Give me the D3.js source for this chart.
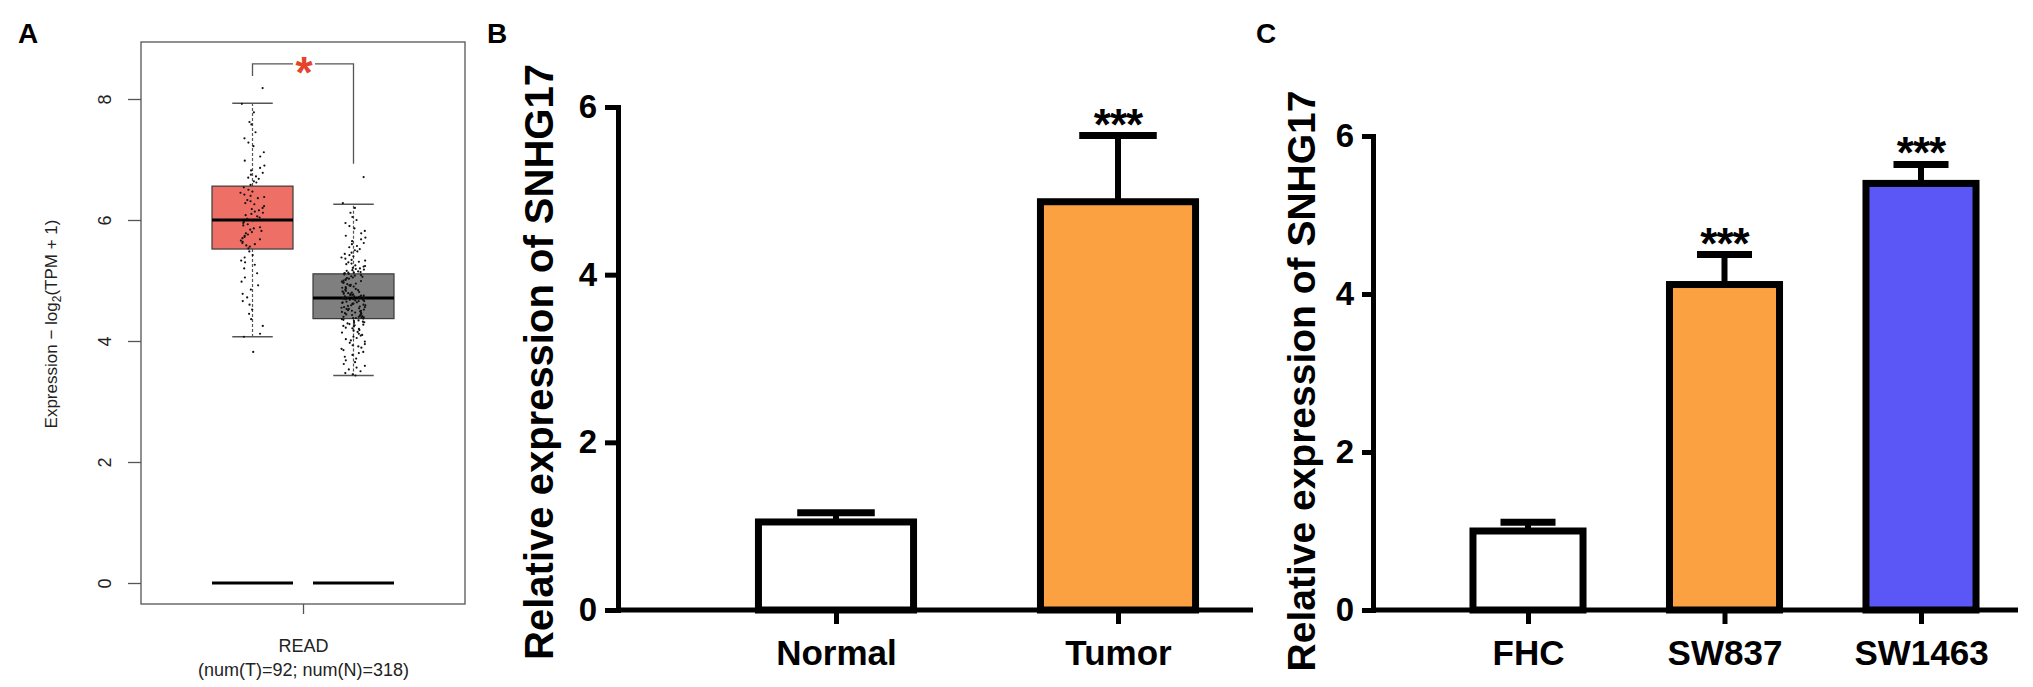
<!DOCTYPE html>
<html>
<head>
<meta charset="utf-8">
<script src="https://cdn.jsdelivr.net/npm/d3@7"></script>
<style>
body { margin: 0; background: #fff; }
svg { display: block; font-family: "Liberation Sans", Arial, sans-serif; }
</style>
</head>
<body>
<div id="chart"></div>
<script>
// ---- panel A : box plot (GEPIA style) ----
const boxGroups  = ['Tumor', 'Normal'];
const sampleSize = [92, 318];
const boxLower   = [4.07, 3.43];
const boxQ1      = [5.52, 4.37];
const boxMedian  = [6.00, 4.71];
const boxQ3      = [6.56, 5.11];
const boxUpper   = [7.93, 6.26];
const zeroLevel  = [0, 0];
const boxTicks   = [0, 2, 4, 6, 8];
const sigBracket = [8.38, 8.58, 6.93]; // left leg, top, right leg

const tumorPoints = [
	8.18, 7.92, 7.78, 7.62, 7.58, 7.45, 7.35, 7.28, 7.22, 7.12, 7.05, 6.98, 6.90, 6.86, 6.82, 6.78,
	6.75, 6.72, 6.70, 6.68, 6.64, 6.62, 6.58, 6.54, 6.50, 6.47, 6.45, 6.42, 6.40, 6.38, 6.36, 6.33,
	6.31, 6.28, 6.26, 6.23, 6.20, 6.18, 6.16, 6.14, 6.12, 6.10, 6.08, 6.06, 6.04, 6.02, 5.99, 5.97,
	5.95, 5.93, 5.91, 5.88, 5.86, 5.84, 5.82, 5.80, 5.78, 5.76, 5.74, 5.72, 5.70, 5.68, 5.66, 5.64,
	5.62, 5.60, 5.58, 5.56, 5.53, 5.48, 5.42, 5.38, 5.33, 5.30, 5.26, 5.20, 5.12, 5.05, 4.98, 4.92,
	4.85, 4.78, 4.72, 4.66, 4.60, 4.52, 4.45, 4.36, 4.25, 4.12, 4.07, 3.82
];
const normalPoints = [
	6.71, 6.28, 6.20, 6.12, 6.05, 6.00, 5.95, 5.90, 5.86, 5.82, 5.78, 5.74, 5.71, 5.68, 5.65, 5.62,
	5.60, 5.57, 5.55, 5.52, 5.50, 5.48, 5.46, 5.44, 5.42, 5.40, 5.38, 5.36, 5.34, 5.33, 5.31, 5.30,
	5.28, 5.27, 5.25, 5.24, 5.23, 5.21, 5.20, 5.19, 5.18, 5.17, 5.16, 5.15, 5.14, 5.13, 5.13, 5.12,
	5.12, 5.11, 5.10, 5.09, 5.08, 5.07, 5.06, 5.05, 5.04, 5.03, 5.02, 5.01, 5.00, 4.99, 4.98, 4.97,
	4.96, 4.95, 4.94, 4.93, 4.92, 4.91, 4.90, 4.89, 4.88, 4.87, 4.86, 4.85, 4.84, 4.83, 4.82, 4.81,
	4.80, 4.80, 4.79, 4.78, 4.78, 4.77, 4.76, 4.76, 4.75, 4.75, 4.74, 4.74, 4.73, 4.73, 4.72, 4.72,
	4.72, 4.71, 4.71, 4.71, 4.70, 4.70, 4.69, 4.69, 4.68, 4.68, 4.67, 4.66, 4.66, 4.65, 4.64, 4.64,
	4.63, 4.62, 4.62, 4.61, 4.60, 4.59, 4.59, 4.58, 4.57, 4.56, 4.56, 4.55, 4.54, 4.53, 4.53, 4.52,
	4.51, 4.50, 4.50, 4.49, 4.48, 4.47, 4.47, 4.46, 4.45, 4.45, 4.44, 4.43, 4.42, 4.42, 4.41, 4.40,
	4.40, 4.39, 4.39, 4.38, 4.38, 4.37, 4.36, 4.35, 4.34, 4.33, 4.32, 4.31, 4.30, 4.29, 4.28, 4.27,
	4.26, 4.25, 4.24, 4.22, 4.21, 4.20, 4.18, 4.17, 4.15, 4.14, 4.12, 4.10, 4.09, 4.07, 4.05, 4.03,
	4.01, 3.99, 3.97, 3.95, 3.93, 3.91, 3.89, 3.87, 3.85, 3.82, 3.80, 3.77, 3.74, 3.71, 3.68, 3.65,
	3.62, 3.59, 3.56, 3.53, 3.50, 3.47, 3.45, 3.43
];

// ---- panel B : tissue ----
const tissueCats  = ['Normal', 'Tumor'];
const tissueMean  = [1.05, 4.87];
const tissueErr   = [0.11, 0.79];
const tissueStars = ['', '***'];

// ---- panel C : cell lines ----
const cellCats  = ['FHC', 'SW837', 'SW1463'];
const cellMean  = [1.00, 4.12, 5.40];
const cellErr   = [0.11, 0.38, 0.24];
const cellStars = ['', '***', '***'];

const barTicks = [0, 2, 4, 6];
const yTitle   = 'Relative expression of SNHG17';

const W = 2033, H = 687;
const FONT = '"Liberation Sans", Arial, sans-serif';

let svg = d3.select('#chart').append('svg')
	.attr('width', W)
	.attr('height', H);

// panel letters
[['A', 18], ['B', 487], ['C', 1256]].forEach(function(p){
	svg.append('text')
		.attr('x', p[1]).attr('y', 43)
		.attr('font-size', 28).attr('font-weight', 'bold')
		.text(p[0]);
});

// ================= panel A =================
let frameA = {left: 141, right: 465, top: 42, bottom: 604};
let yA = d3.scaleLinear().domain([0, 8]).range([583, 99]);
let xA = d3.scalePoint().domain(boxGroups).range([252.5, 353.5]);
let boxW = 81;
let boxFill = {Tumor: '#EE6F66', Normal: '#7F7F7F'};

let gA = svg.append('g');

gA.append('rect')
	.attr('x', frameA.left).attr('y', frameA.top)
	.attr('width', frameA.right - frameA.left)
	.attr('height', frameA.bottom - frameA.top)
	.attr('fill', 'none').attr('stroke', '#555').attr('stroke-width', 1.3);

let axA = gA.append('g')
	.attr('transform', 'translate(' + frameA.left + ',0)')
	.call(d3.axisLeft(yA).tickValues(boxTicks).tickSize(13).tickSizeOuter(0));
axA.select('.domain').remove();
axA.selectAll('line').attr('stroke', '#555').attr('stroke-width', 1.3);
axA.selectAll('text')
	.attr('x', null).attr('dy', null)
	.attr('transform', 'translate(-30,0) rotate(-90)')
	.attr('text-anchor', 'middle')
	.attr('font-size', 18).attr('fill', '#222')
	.attr('font-family', FONT);

let titleA = gA.append('text')
	.attr('transform', 'translate(57,324) rotate(-90)')
	.attr('text-anchor', 'middle')
	.attr('font-size', 17).attr('fill', '#222');
titleA.append('tspan').text('Expression \u2212 log');
titleA.append('tspan').attr('dy', 4).attr('font-size', 12).text('2');
titleA.append('tspan').attr('dy', -4).text('(TPM + 1)');

let xRead = d3.scalePoint().domain(['READ']).range([frameA.left, frameA.right]).padding(0.5);
let axAx = gA.append('g')
	.attr('transform', 'translate(0,' + frameA.bottom + ')')
	.call(d3.axisBottom(xRead).tickSize(10).tickSizeOuter(0));
axAx.select('.domain').remove();
axAx.selectAll('line').attr('stroke', '#555').attr('stroke-width', 1.3);
let readText = axAx.select('.tick text')
	.attr('y', 48).attr('dy', null)
	.attr('font-size', 18).attr('fill', '#222')
	.attr('font-family', FONT);
readText.append('tspan')
	.attr('x', 0).attr('dy', 24)
	.text('(num(T)=' + sampleSize[0] + '; num(N)=' + sampleSize[1] + ')');

let boxData = boxGroups.map(function(g, i){
	return {g: g, lo: boxLower[i], q1: boxQ1[i], med: boxMedian[i], q3: boxQ3[i], hi: boxUpper[i], zero: zeroLevel[i]};
});

// whiskers
boxData.forEach(function(d){
	let cx = xA(d.g);
	[[d.q3, d.hi], [d.q1, d.lo]].forEach(function(w){
		gA.append('line')
			.attr('x1', cx).attr('x2', cx)
			.attr('y1', yA(w[0])).attr('y2', yA(w[1]))
			.attr('stroke', '#555').attr('stroke-width', 1.2)
			.attr('stroke-dasharray', '3,2');
		gA.append('line')
			.attr('x1', cx - boxW / 4).attr('x2', cx + boxW / 4)
			.attr('y1', yA(w[1])).attr('y2', yA(w[1]))
			.attr('stroke', '#555').attr('stroke-width', 1.3);
	});
});

gA.selectAll('.box').data(boxData).enter()
	.append('rect')
	.attr('class', 'box')
	.attr('x', function(d){ return xA(d.g) - boxW / 2; })
	.attr('y', function(d){ return yA(d.q3); })
	.attr('width', boxW)
	.attr('height', function(d){ return yA(d.q1) - yA(d.q3); })
	.attr('fill', function(d){ return boxFill[d.g]; })
	.attr('stroke', '#3a3a3a').attr('stroke-width', 1.2);

gA.selectAll('.median').data(boxData).enter()
	.append('line')
	.attr('x1', function(d){ return xA(d.g) - boxW / 2; })
	.attr('x2', function(d){ return xA(d.g) + boxW / 2; })
	.attr('y1', function(d){ return yA(d.med); })
	.attr('y2', function(d){ return yA(d.med); })
	.attr('stroke', '#000').attr('stroke-width', 3);

gA.selectAll('.zero').data(boxData).enter()
	.append('line')
	.attr('x1', function(d){ return xA(d.g) - boxW / 2; })
	.attr('x2', function(d){ return xA(d.g) + boxW / 2; })
	.attr('y1', function(d){ return yA(d.zero); })
	.attr('y2', function(d){ return yA(d.zero); })
	.attr('stroke', '#000').attr('stroke-width', 3);

// horizontal spread of the points: a fixed hash of the index, values are the typed ones
function jitter(i){
	let h = Math.sin((i + 1) * 12.9898) * 43758.5453;
	return (h - Math.floor(h) - 0.5) * 24;
}
[['Tumor', tumorPoints], ['Normal', normalPoints]].forEach(function(s){
	gA.append('g').selectAll('circle').data(s[1]).enter()
		.append('circle')
		.attr('cx', function(d, i){ return xA(s[0]) + jitter(i); })
		.attr('cy', function(d){ return yA(d); })
		.attr('r', 1.1)
		.attr('fill', '#111');
});

// significance bracket
let bl = xA('Tumor'), br = xA('Normal'), bm = (bl + br) / 2;
gA.append('path')
	.attr('d', 'M' + bl + ',' + yA(sigBracket[0]) + 'V' + yA(sigBracket[1]) + 'H' + (bm - 10))
	.attr('fill', 'none').attr('stroke', '#555').attr('stroke-width', 1.3);
gA.append('path')
	.attr('d', 'M' + (bm + 12) + ',' + yA(sigBracket[1]) + 'H' + br + 'V' + yA(sigBracket[2]))
	.attr('fill', 'none').attr('stroke', '#555').attr('stroke-width', 1.3);
gA.append('text')
	.attr('x', bm + 1).attr('y', yA(sigBracket[1]) + 24)
	.attr('text-anchor', 'middle')
	.attr('font-size', 44).attr('font-weight', 'bold').attr('fill', '#E5432A')
	.text('*');

// ================= bar panels =================
function barPanel(opts){
	let y = d3.scaleLinear().domain([0, 6]).range([610, opts.yTop]);
	let x = d3.scalePoint().domain(opts.cats).range(opts.xRange);
	let bw = x.step() * opts.barFrac;
	let g = svg.append('g');

	let data = opts.cats.map(function(c, i){
		return {c: c, v: opts.mean[i], e: opts.err[i], s: opts.stars[i], fill: opts.fills[i]};
	});

	// error bars first so the bar outline sits on top
	g.selectAll('.err').data(data).enter()
		.append('line')
		.attr('x1', function(d){ return x(d.c); })
		.attr('x2', function(d){ return x(d.c); })
		.attr('y1', function(d){ return y(d.v); })
		.attr('y2', function(d){ return y(d.v + d.e); })
		.attr('stroke', '#000').attr('stroke-width', 6);
	g.selectAll('.cap').data(data).enter()
		.append('line')
		.attr('x1', function(d){ return x(d.c) - bw / 4; })
		.attr('x2', function(d){ return x(d.c) + bw / 4; })
		.attr('y1', function(d){ return y(d.v + d.e); })
		.attr('y2', function(d){ return y(d.v + d.e); })
		.attr('stroke', '#000').attr('stroke-width', 7);

	g.selectAll('.bar').data(data).enter()
		.append('rect')
		.attr('x', function(d){ return x(d.c) - bw / 2; })
		.attr('y', function(d){ return y(d.v); })
		.attr('width', bw)
		.attr('height', function(d){ return y(0) - y(d.v); })
		.attr('fill', function(d){ return d.fill; })
		.attr('stroke', '#000').attr('stroke-width', 7);

	g.selectAll('.star').data(data).enter()
		.append('text')
		.attr('x', function(d){ return x(d.c); })
		.attr('y', function(d){ return y(d.v + d.e) + 4; })
		.attr('text-anchor', 'middle')
		.attr('font-size', 44).attr('font-weight', 'bold')
		.attr('letter-spacing', -1)
		.text(function(d){ return d.s; });

	// y axis
	let ay = g.append('g')
		.attr('transform', 'translate(' + opts.axisX + ',0)')
		.call(d3.axisLeft(y).tickValues(barTicks).tickFormat(d3.format('d'))
			.tickSize(opts.tickLen).tickPadding(8).tickSizeOuter(0));
	ay.select('.domain').attr('stroke-width', 5).attr('stroke-linecap', 'square');
	ay.selectAll('line').attr('stroke-width', 5);
	ay.selectAll('text')
		.attr('font-size', 33).attr('font-weight', 'bold').attr('fill', '#000')
		.attr('font-family', FONT);

	// x axis
	let ax = g.append('g')
		.attr('transform', 'translate(0,' + y(0) + ')')
		.call(d3.axisBottom(x).tickSize(14).tickSizeOuter(0));
	ax.select('.domain').remove();
	ax.selectAll('line').attr('stroke-width', 5);
	ax.selectAll('text')
		.attr('y', 55).attr('dy', null)
		.attr('font-size', 35).attr('font-weight', 'bold').attr('fill', '#000')
		.attr('font-family', FONT);
	g.append('line')
		.attr('x1', opts.axisX).attr('x2', opts.axisEnd)
		.attr('y1', y(0)).attr('y2', y(0))
		.attr('stroke', '#000').attr('stroke-width', 5);

	g.append('text')
		.attr('transform', 'translate(' + opts.titleX + ',' + opts.titleY + ') rotate(-90)')
		.attr('text-anchor', 'middle')
		.attr('font-size', opts.titleSize).attr('font-weight', 'bold')
		.text(yTitle);
}

barPanel({
	cats: tissueCats, mean: tissueMean, err: tissueErr, stars: tissueStars,
	fills: ['#FFFFFF', '#FBA141'],
	yTop: 107, xRange: [836, 1118], barFrac: 0.55,
	axisX: 618, axisEnd: 1253, tickLen: 13,
	titleX: 553, titleY: 362, titleSize: 40
});

barPanel({
	cats: cellCats, mean: cellMean, err: cellErr, stars: cellStars,
	fills: ['#FFFFFF', '#FBA141', '#5A57F6'],
	yTop: 136, xRange: [1528, 1921], barFrac: 0.56,
	axisX: 1373, axisEnd: 2018, tickLen: 11,
	titleX: 1315, titleY: 381, titleSize: 39
});
</script>
</body>
</html>
